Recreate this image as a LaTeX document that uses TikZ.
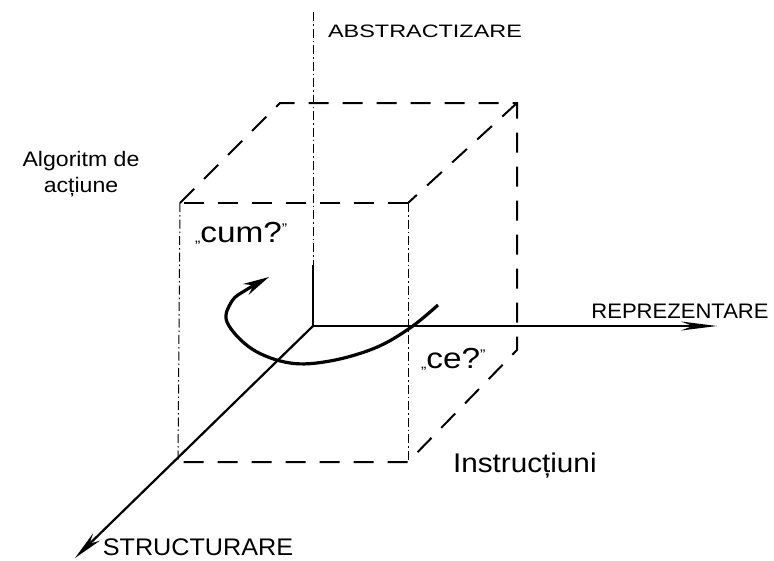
\documentclass[tikz,border=0pt]{standalone}
\usepackage{fontspec}
\setmainfont{Liberation Sans}
\newfontfamily\capfont[FakeStretch=1.05]{Liberation Sans}
\newfontfamily\absfont[FakeStretch=1.3]{Liberation Sans}
\newfontfamily\txtfont[FakeStretch=1.1]{Liberation Sans}
\newfontfamily\qfont[FakeStretch=1.15]{Liberation Sans}
\usetikzlibrary{arrows.meta}
\newcommand\lowquote{{\fontsize{14}{14}\selectfont „}}
\newcommand\highquote{\raisebox{9pt}{\fontsize{14}{14}\selectfont ”}}
\tikzset{
  heavydash/.style={line width=2pt, dash pattern=on 20pt off 14pt},
  hidden/.style={line width=1pt, dash pattern=on 9pt off 3pt on 1.5pt off 3pt},
  axisline/.style={line width=2.2pt},
  turnline/.style={line width=3.2pt},
  lbl/.style={inner sep=0pt, outer sep=0pt}
}
\begin{document}
\begin{tikzpicture}[x=1pt,y=-1pt]
\useasboundingbox (0,0) rectangle (774,560);
% cube corners
\coordinate (O) at (313,326);
\coordinate (FTL) at (180,203);
\coordinate (FTR) at (408,203);
\coordinate (FBR) at (408,462);
\coordinate (FBL) at (178,462);
\coordinate (BTL) at (280,103);
\coordinate (BTR) at (517,103);
\coordinate (BBR) at (517,350);
\coordinate (Vtop) at (313,12);
\coordinate (Vmid) at (313,265);
\coordinate (Xtip) at (717,326);
\coordinate (Stip) at (75,558);
% cube edges
\draw[heavydash] (FTL) -- (BTL) -- (BTR) -- (BBR) -- (FBR) -- (FBL);
\draw[heavydash] (BTR) -- (FTR);
\draw[heavydash] (FTR) -- (FTL);
\draw[hidden] (FTL) -- (FBL);
\draw[hidden] (FTR) -- (FBR);
% axes
\draw[hidden] (Vtop) -- (Vmid);
\draw[axisline] (Vmid) -- (O);
\draw[axisline, -{Stealth[length=36pt,width=9pt]}] (O) -- (Xtip);
\draw[axisline, -{Stealth[length=30pt,width=10pt]}] (O) -- (Stip);
% rotation arrow
\draw[turnline, -{Stealth[length=26pt,width=12pt]}] plot[smooth, tension=0.6] coordinates {(438,305) (410,328) (375,348) (330,361) (290,363) (252,349) (227,322) (232,301) (246,290) (269,277)};
% labels
\node[lbl, anchor=base, font=\absfont\fontsize{18}{18}\selectfont] (abs) at (425,37) {ABSTRACTIZARE};
\node[lbl, anchor=base, font=\capfont\fontsize{21}{21}\selectfont] (rep) at (680,318) {REPREZENTARE};
\node[lbl, anchor=base, font=\capfont\fontsize{24}{24}\selectfont] (str) at (198,555) {STRUCTURARE};
\node[lbl, anchor=base west, font=\txtfont\fontsize{27}{27}\selectfont] (ins) at (453,472) {Instrucțiuni};
\node[lbl, anchor=base, font=\txtfont\fontsize{21}{21}\selectfont] (alg1) at (81,166) {Algoritm de};
\node[lbl, anchor=base, font=\txtfont\fontsize{21}{21}\selectfont] (alg2) at (81,192) {acțiune};
\node[lbl, anchor=base west, font=\qfont\fontsize{29}{29}\selectfont] (cum) at (195,242) {\lowquote cum?\highquote};
\node[lbl, anchor=base west, font=\qfont\fontsize{29}{29}\selectfont] (ce) at (421,368) {\lowquote ce?\highquote};
\end{tikzpicture}
\end{document}
